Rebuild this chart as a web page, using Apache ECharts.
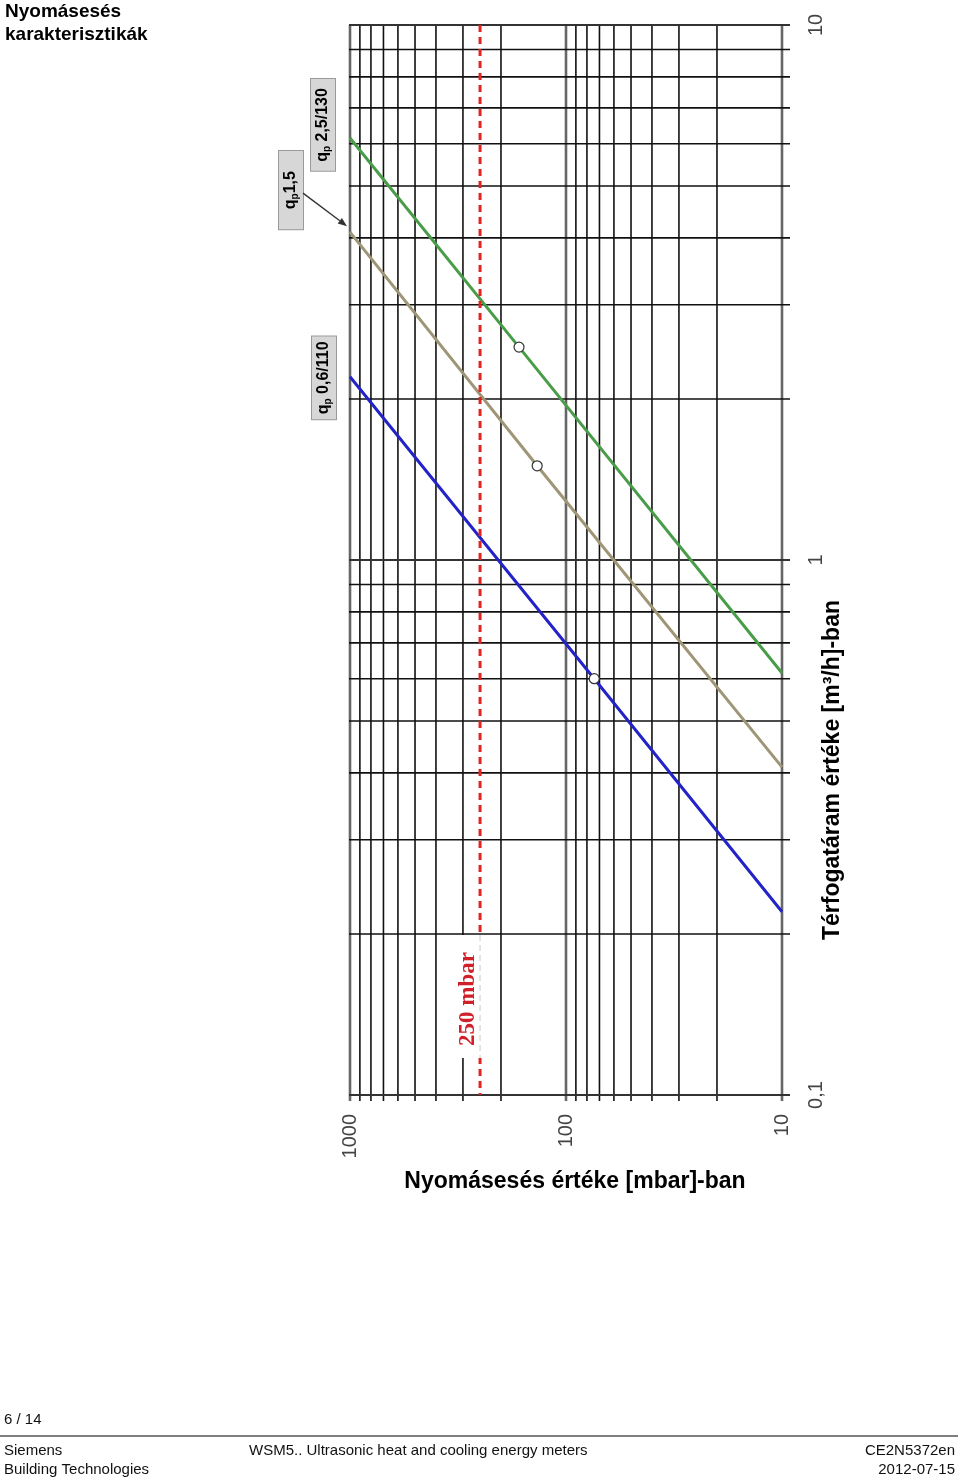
<!DOCTYPE html>
<html>
<head>
<meta charset="utf-8">
<script src="https://cdn.jsdelivr.net/npm/echarts@6/dist/echarts.min.js"></script>
<style>
  html, body { margin: 0; padding: 0; background: #fff; }
  #chart { width: 960px; height: 1482px; }
</style>
</head>
<body>
<div id="chart"></div>
<script>
// ---- data ----
const xMajor = [10, 100, 1000];                       // mbar decades
const xMinor = [20, 30, 40, 50, 60, 70, 80, 90, 200, 300, 400, 500, 600, 700, 800, 900];
const yMajor = [0.1, 1, 10];                          // m3/h decades
const yMinor = [0.2, 0.3, 0.4, 0.5, 0.6, 0.7, 0.8, 0.9, 2, 3, 4, 5, 6, 7, 8, 9];
const xTickLabels = { '1': '10', '2': '100', '3': '1000' };
const yTickLabels = { '-1': '0,1', '0': '1', '1': '10' };

const pressureEnds = [1000, 10];
const flowGreen = [6.15, 0.615];   // qp 2,5/130
const flowOlive = [4.1, 0.41];     // qp 1,5
const flowBlue = [2.2, 0.22];      // qp 0,6/110
const nominalGreen = [165, 2.5];
const nominalOlive = [136, 1.5];
const nominalBlue = [74, 0.6];
const limitPressure = 250;         // 250 mbar line

const seriesNames = ['qp 2,5/130', 'qp 1,5', 'qp 0,6/110'];
const seriesColors = ['#4a9d48', '#9e9676', '#2323c8'];

const FONT = 'Liberation Sans, Arial, Helvetica, sans-serif';
const xMin = 10, xMax = 1000, yMin = 0.1, yMax = 10;

function lineData(flows, nominal) {
  return [
    [pressureEnds[0], flows[0]],
    { value: nominal, symbol: 'circle', symbolSize: 10 },
    [pressureEnds[1], flows[1]]
  ];
}

const vGrid = xMajor.map(v => [v, 1, 1]).concat(xMinor.map(v => [v, 1, 0]));
const hGrid = yMajor.map(v => [100, v, 1]).concat(yMinor.map(v => [100, v, 0]));

const chart = echarts.init(document.getElementById('chart'));

const option = {
  backgroundColor: '#ffffff',
  animation: false,
  title: {
    text: 'Nyomásesés\nkarakterisztikák',
    left: 5, top: 0, padding: 0,
    textStyle: { fontFamily: FONT, fontSize: 19, fontWeight: 'bold', color: '#000', lineHeight: 23 }
  },
  grid: { left: 350, right: 178, top: 25, bottom: 387, containLabel: false },
  xAxis: {
    type: 'log', logBase: 10, min: xMin, max: xMax, inverse: true, position: 'bottom',
    axisLine: { show: false }, axisTick: { show: false }, splitLine: { show: false },
    axisLabel: {
      rotate: 90, fontSize: 20, color: '#444', fontFamily: FONT, margin: 19,
      formatter: v => xTickLabels[String(Math.round(Math.log10(v)))] || ''
    },
    name: 'Nyomásesés értéke [mbar]-ban',
    nameLocation: 'middle', nameGap: 75,
    nameTextStyle: { fontFamily: FONT, fontSize: 23, fontWeight: 'bold', color: '#000', padding: [0, 0, 0, 18] }
  },
  yAxis: {
    type: 'log', logBase: 10, min: yMin, max: yMax, position: 'right',
    axisLine: { show: false }, axisTick: { show: false }, splitLine: { show: false },
    axisLabel: {
      rotate: 90, fontSize: 20, color: '#444', fontFamily: FONT, margin: 24,
      formatter: v => yTickLabels[String(Math.round(Math.log10(v)))] || ''
    }
  },
  series: [
    {
      type: 'custom', name: 'vgrid', silent: true, z: 1, data: vGrid,
      renderItem: (params, api) => {
        const v = api.value(0), major = api.value(2) === 1;
        const t = api.coord([v, yMax]), b = api.coord([v, yMin]);
        return { type: 'line', shape: { x1: t[0], y1: t[1], x2: b[0], y2: b[1] + 6 },
          style: { stroke: major ? '#666' : '#111', lineWidth: major ? 2.6 : 1.6 } };
      }
    },
    {
      type: 'custom', name: 'hgrid', silent: true, z: 1, data: hGrid,
      renderItem: (params, api) => {
        const v = api.value(1), major = api.value(2) === 1;
        const l = api.coord([xMax, v]), r = api.coord([xMin, v]);
        return { type: 'line', shape: { x1: l[0] - 1, y1: l[1], x2: r[0] + 8, y2: r[1] },
          style: { stroke: major ? '#333' : '#111', lineWidth: major ? 2.2 : 1.6 } };
      }
    },
    {
      type: 'custom', name: 'limit', silent: true, z: 4, data: [[limitPressure, 1]],
      renderItem: (params, api) => {
        const v = api.value(0);
        const t = api.coord([v, yMax]), b = api.coord([v, yMin]);
        const bx = b[0], by = b[1];
        return {
          type: 'group',
          children: [
            { type: 'line', shape: { x1: t[0], y1: t[1], x2: b[0], y2: b[1] },
              style: { stroke: '#e2231f', lineWidth: 3, lineDash: [7, 5] } },
            { type: 'rect', shape: { x: bx - 25, y: by - 160, width: 29, height: 123 },
              style: { fill: '#ffffff' } },
            { type: 'line', shape: { x1: bx, y1: by - 160, x2: bx, y2: by - 37 },
              style: { stroke: '#dcdcdc', lineWidth: 1.5, lineDash: [6, 4] } },
            { type: 'text', x: bx - 12, y: by - 96, rotation: Math.PI / 2,
              style: { text: '250 mbar', fill: '#d0202a',
                font: 'bold 23px "Liberation Serif", "Times New Roman", serif',
                align: 'center', verticalAlign: 'middle', textAlign: 'center', textVerticalAlign: 'middle' } }
          ]
        };
      }
    },
    {
      type: 'line', name: seriesNames[0], z: 3, data: lineData(flowGreen, nominalGreen),
      symbol: 'circle', symbolSize: 0, showSymbol: true,
      lineStyle: { color: seriesColors[0], width: 3 },
      itemStyle: { color: '#ffffff', borderColor: '#333', borderWidth: 1.2 }
    },
    {
      type: 'line', name: seriesNames[1], z: 3, data: lineData(flowOlive, nominalOlive),
      symbol: 'circle', symbolSize: 0, showSymbol: true,
      lineStyle: { color: seriesColors[1], width: 3 },
      itemStyle: { color: '#ffffff', borderColor: '#333', borderWidth: 1.2 }
    },
    {
      type: 'line', name: seriesNames[2], z: 3, data: lineData(flowBlue, nominalBlue),
      symbol: 'circle', symbolSize: 0, showSymbol: true,
      lineStyle: { color: seriesColors[2], width: 3 },
      itemStyle: { color: '#ffffff', borderColor: '#333', borderWidth: 1.2 }
    }
  ]
};

chart.setOption(option);

// ---- annotations attached to line start points ----
const pG = chart.convertToPixel({ gridIndex: 0 }, [pressureEnds[0], flowGreen[0]]);
const pO = chart.convertToPixel({ gridIndex: 0 }, [pressureEnds[0], flowOlive[0]]);
const pB = chart.convertToPixel({ gridIndex: 0 }, [pressureEnds[0], flowBlue[0]]);

const rich = {
  q: { fontFamily: FONT, fontSize: 16, fontWeight: 'bold', color: '#222', lineHeight: 18 },
  p: { fontFamily: FONT, fontSize: 10, fontWeight: 'bold', color: '#222', lineHeight: 10, verticalAlign: 'bottom' },
  t: { fontFamily: FONT, fontSize: 16, fontWeight: 'bold', color: '#222', lineHeight: 18 }
};
function tag(x, y, rest, pad) {
  return {
    type: 'text', x: x, y: y, rotation: Math.PI / 2, z: 10,
    style: {
      text: '{q|q}{p|p}{t|' + rest + '}', rich: rich,
      align: 'center', verticalAlign: 'middle', textAlign: 'center', textVerticalAlign: 'middle',
      backgroundColor: '#d7d7d7', borderColor: '#9a9a9a', borderWidth: 1, padding: pad
    }
  };
}
const ax1 = [pO[0] - 47, pO[1] - 39], ax2 = [pO[0] - 3, pO[1] - 6];
const ang = Math.atan2(ax2[1] - ax1[1], ax2[0] - ax1[0]);
const ah = 9, aw = 3.5;
const base = [ax2[0] - ah * Math.cos(ang), ax2[1] - ah * Math.sin(ang)];
const head = [
  ax2,
  [base[0] + aw * Math.sin(ang), base[1] - aw * Math.cos(ang)],
  [base[0] - aw * Math.sin(ang), base[1] + aw * Math.cos(ang)]
];

const footFont = '15px ' + FONT;
chart.setOption({
  graphic: [
    tag(pG[0] - 27, pG[1] - 13, ' 2,5/130', [3, 9, 3, 9]),
    tag(pO[0] - 59, pO[1] - 42, '1,5', [3, 20, 3, 20]),
    tag(pB[0] - 26, pB[1] + 1, ' 0,6/110', [3, 5, 3, 5]),
    { type: 'line', z: 10, shape: { x1: ax1[0], y1: ax1[1], x2: base[0], y2: base[1] },
      style: { stroke: '#333', lineWidth: 1.4 } },
    { type: 'polygon', z: 10, shape: { points: head }, style: { fill: '#333' } },
    // vertical axis title
    { type: 'text', x: 833, y: 770, rotation: Math.PI / 2, z: 10,
      style: { text: 'Térfogatáram értéke [m³/h]-ban', fill: '#000',
        font: 'bold 23px ' + FONT,
        align: 'center', verticalAlign: 'middle', textAlign: 'center', textVerticalAlign: 'middle' } },
    // footer
    { type: 'text', x: 4, y: 1420, style: { text: '6 / 14', fill: '#111', font: footFont, verticalAlign: 'middle', textVerticalAlign: 'middle' } },
    { type: 'line', shape: { x1: 0, y1: 1436, x2: 958, y2: 1436 }, style: { stroke: '#000', lineWidth: 1 } },
    { type: 'text', x: 4, y: 1451, style: { text: 'Siemens', fill: '#111', font: footFont, verticalAlign: 'middle', textVerticalAlign: 'middle' } },
    { type: 'text', x: 4, y: 1470, style: { text: 'Building Technologies', fill: '#111', font: footFont, verticalAlign: 'middle', textVerticalAlign: 'middle' } },
    { type: 'text', x: 249, y: 1451, style: { text: 'WSM5.. Ultrasonic heat and cooling energy meters', fill: '#111', font: footFont, verticalAlign: 'middle', textVerticalAlign: 'middle' } },
    { type: 'text', x: 955, y: 1451, style: { text: 'CE2N5372en', fill: '#111', font: footFont, align: 'right', textAlign: 'right', verticalAlign: 'middle', textVerticalAlign: 'middle' } },
    { type: 'text', x: 955, y: 1470, style: { text: '2012-07-15', fill: '#111', font: footFont, align: 'right', textAlign: 'right', verticalAlign: 'middle', textVerticalAlign: 'middle' } }
  ]
});
</script>
</body>
</html>
